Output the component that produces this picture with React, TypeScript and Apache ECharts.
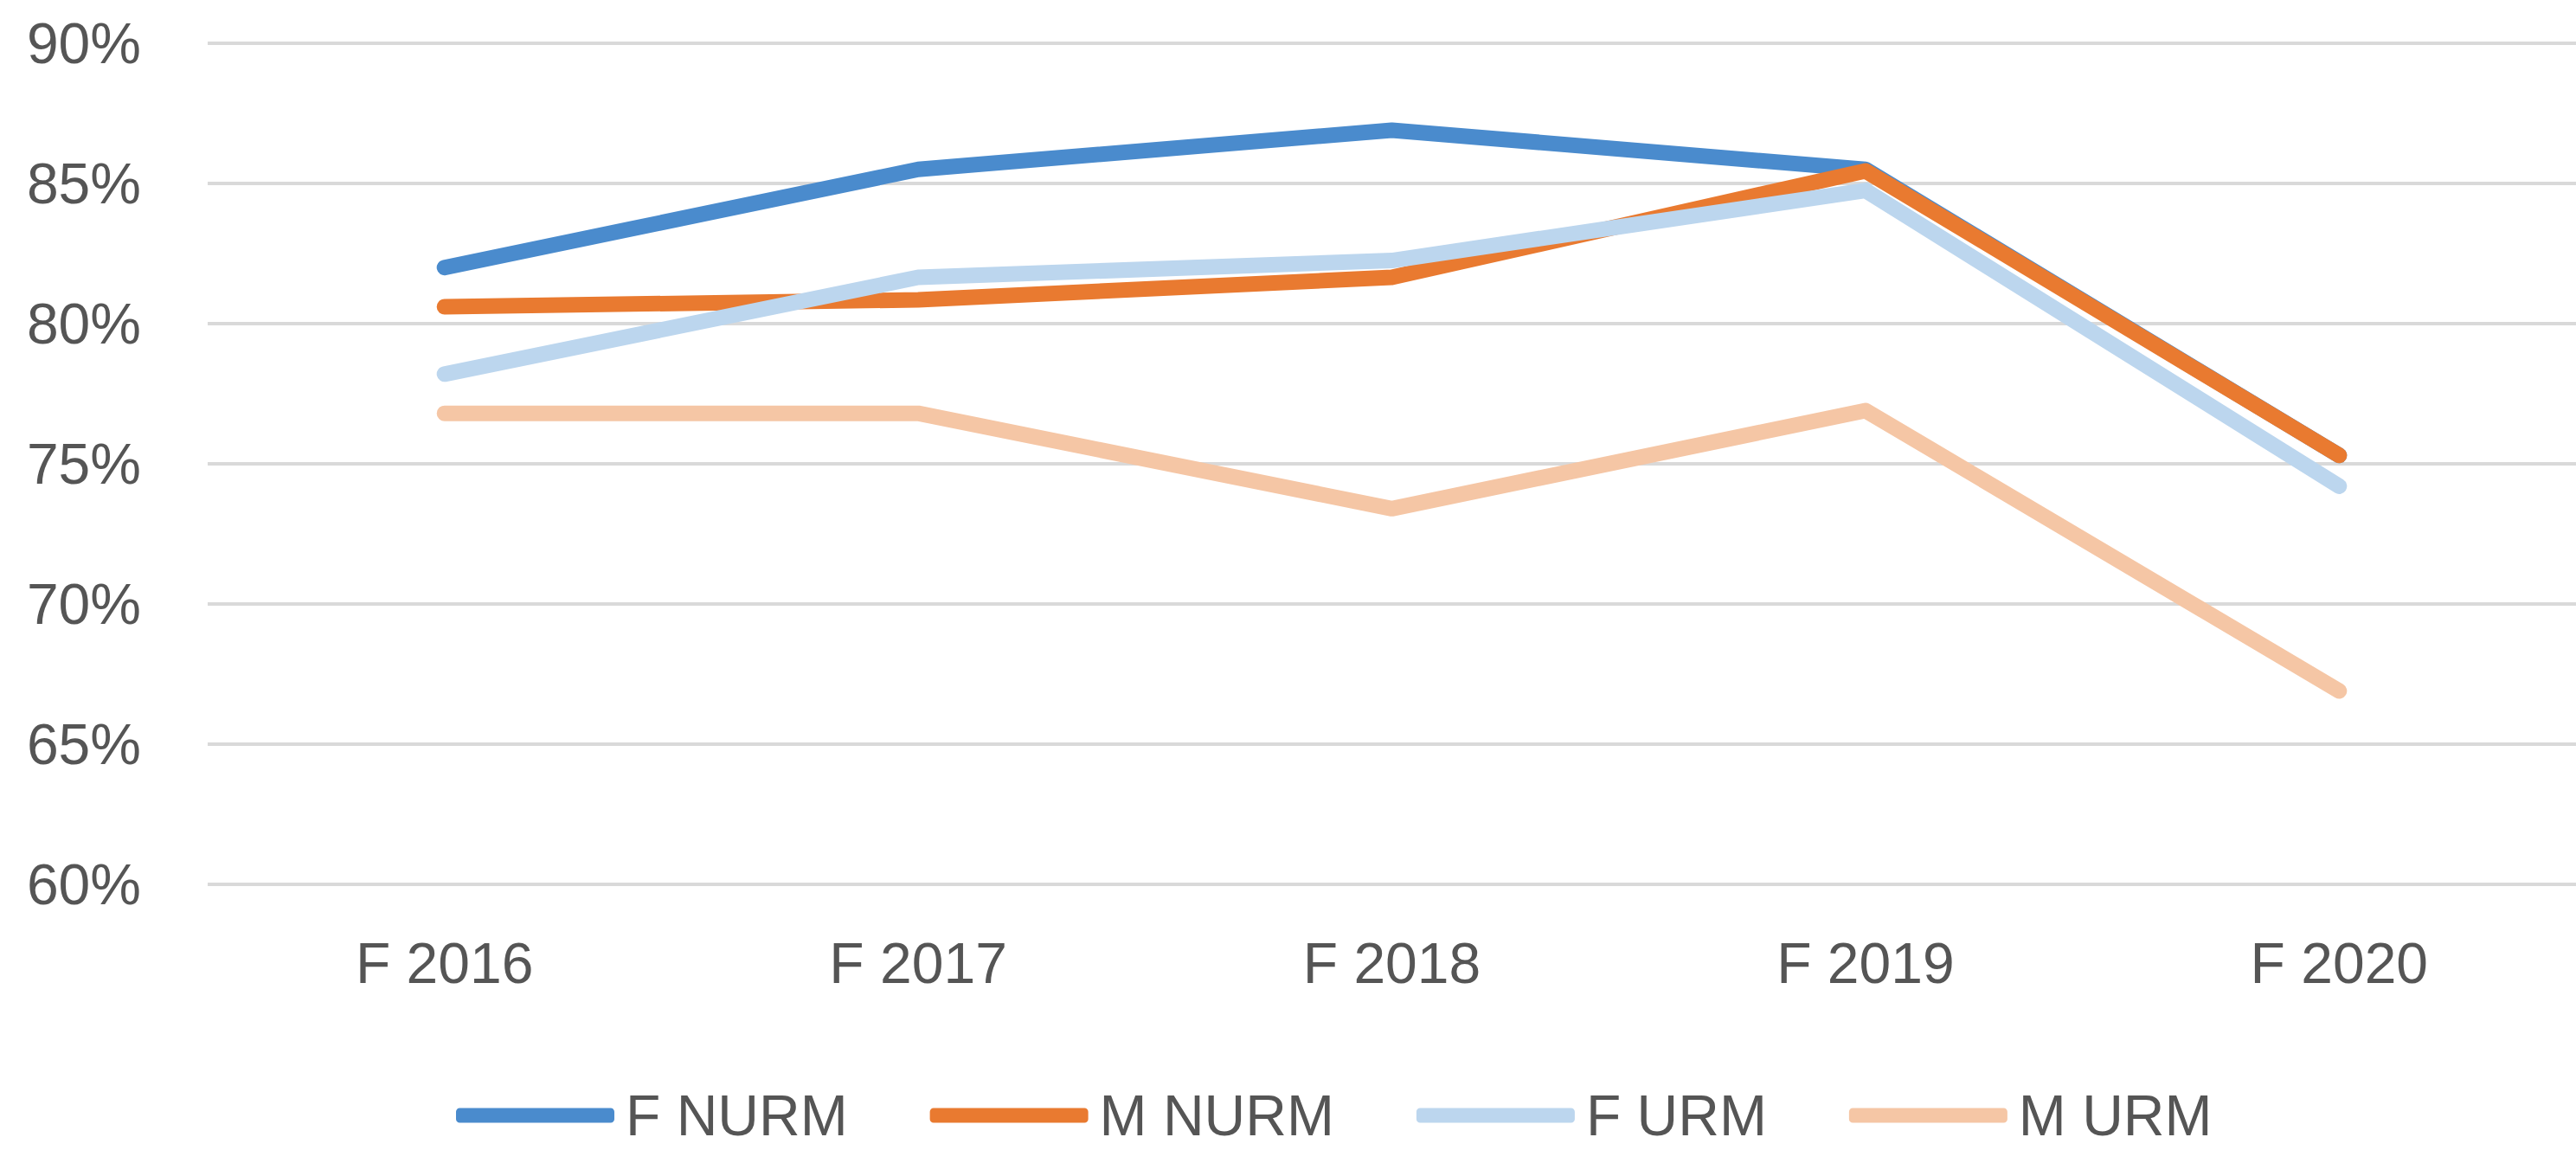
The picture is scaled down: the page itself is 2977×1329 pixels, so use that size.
import React, { useEffect, useRef } from "react";
import * as echarts from "echarts";

const categories = ["F 2016", "F 2017", "F 2018", "F 2019", "F 2020"];
const fNurm = [82.0, 85.5, 86.9, 85.5, 75.3];
const mNurm = [80.6, 80.85, 81.65, 85.45, 75.3];
const fUrm = [78.2, 81.65, 82.25, 84.75, 74.2];
const mUrm = [76.8, 76.8, 73.4, 76.9, 66.9];
const seriesNames = ["F NURM", "M NURM", "F URM", "M URM"];
const seriesColors = ["#4a8bcd", "#e97a30", "#bcd6ee", "#f5c6a5"];
const yMin = 60;
const yMax = 90;
const yStep = 5;

const FONT = "'Liberation Sans', Arial, sans-serif";
const TEXT_COLOR = "#555555";
const FONT_SIZE = 66;

export default function App() {
  const ref = useRef<HTMLDivElement>(null);

  useEffect(() => {
    if (!ref.current) return;
    const chart = echarts.init(ref.current, undefined, { renderer: "svg" });
    const data = [fNurm, mNurm, fUrm, mUrm];
    chart.setOption({
      animation: false,
      backgroundColor: "#ffffff",
      grid: { left: 240, right: 0, top: 50, bottom: 307, containLabel: false },
      legend: {
        data: seriesNames,
        left: 527,
        top: 1256,
        padding: 0,
        icon: "roundRect",
        itemWidth: 183,
        itemHeight: 17,
        itemGap: 95,
        textStyle: {
          fontFamily: FONT,
          fontSize: FONT_SIZE,
          color: TEXT_COLOR,
          padding: [0, 0, 0, 8],
        },
      },
      xAxis: {
        type: "category",
        data: categories,
        boundaryGap: true,
        axisLine: { show: false },
        axisTick: { show: false },
        axisLabel: {
          fontFamily: FONT,
          fontSize: FONT_SIZE,
          color: TEXT_COLOR,
          margin: 58,
        },
      },
      yAxis: {
        type: "value",
        min: yMin,
        max: yMax,
        interval: yStep,
        axisLine: { show: false },
        axisTick: { show: false },
        axisLabel: {
          fontFamily: FONT,
          fontSize: FONT_SIZE,
          color: TEXT_COLOR,
          margin: 77,
          formatter: (v: number) => `${v}%`,
        },
        splitLine: { lineStyle: { color: "#d9d9d9", width: 4 } },
      },
      series: seriesNames.map((name, i) => ({
        name,
        type: "line",
        data: data[i],
        showSymbol: false,
        symbol: "none",
        color: seriesColors[i],
        lineStyle: {
          color: seriesColors[i],
          width: 18,
          cap: "round",
          join: "round",
        },
      })),
    });
    return () => chart.dispose();
  }, []);

  return (
    <div
      ref={ref}
      style={{ position: "absolute", left: 0, top: 0, width: 2977, height: 1329 }}
    />
  );
}
